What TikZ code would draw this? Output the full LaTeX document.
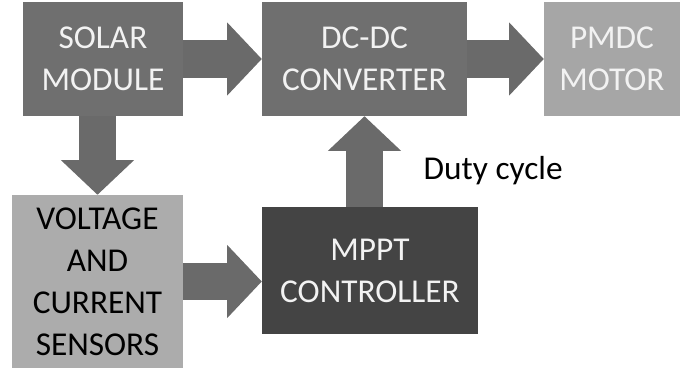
\documentclass[tikz,border=0pt]{standalone}
\usepackage{fontspec}
\setmainfont{Carlito}
\usetikzlibrary{arrows.meta}
\definecolor{solargray}{HTML}{6F6F6F}
\definecolor{motorgray}{HTML}{A6A6A6}
\definecolor{sensorgray}{HTML}{ACACAC}
\definecolor{mpptgray}{HTML}{444444}
\definecolor{arrowgray}{HTML}{6A6A6A}
\definecolor{labelwhite}{HTML}{F2F2F2}
\begin{document}
\begin{tikzpicture}[x=0.75pt, y=-0.75pt,
    block/.style={rectangle, align=center, inner sep=0pt,
      font=\fontsize{25}{31.5}\selectfont},
    fat/.style={draw=arrowgray, line width=28pt,
      -{Triangle[length=26pt 0 0, width=55pt 0 0, line width'=0pt]}}]
    \useasboundingbox (0,0) rectangle (680,370);
    \node[block, fill=solargray, text=labelwhite,
      minimum width=120pt, minimum height=85.5pt]
      (solar) at (103,59) {SOLAR\\MODULE};
    \node[block, fill=solargray, text=labelwhite,
      minimum width=153.75pt, minimum height=85.5pt]
      (dcdc) at (364.5,59) {DC-DC\\CONVERTER};
    \node[block, fill=motorgray, text=labelwhite,
      minimum width=102pt, minimum height=85.5pt]
      (motor) at (612,59) {PMDC\\MOTOR};
    \node[block, fill=sensorgray, text=black,
      minimum width=128.25pt, minimum height=129.75pt]
      (sensors) at (97.5,281.5) {VOLTAGE\\AND\\CURRENT\\SENSORS};
    \node[block, fill=mpptgray, text=labelwhite,
      minimum width=162pt, minimum height=95.25pt]
      (mppt) at (370,270.5) {MPPT\\CONTROLLER};
    \node[font=\fontsize{25}{28}\selectfont, anchor=west]
      (duty) at (419,171) {Duty cycle};
    \draw[fat] (solar.east) -- (dcdc.west);
    \draw[fat] (dcdc.east) -- (motor.west);
    \draw[fat] (sensors.north |- solar.south) -- (sensors.north);
    \draw[fat] (sensors.east) -- (sensors.east -| mppt.west);
    \draw[fat] (dcdc.south |- mppt.north) -- (dcdc.south);
  \end{tikzpicture}
\end{document}
